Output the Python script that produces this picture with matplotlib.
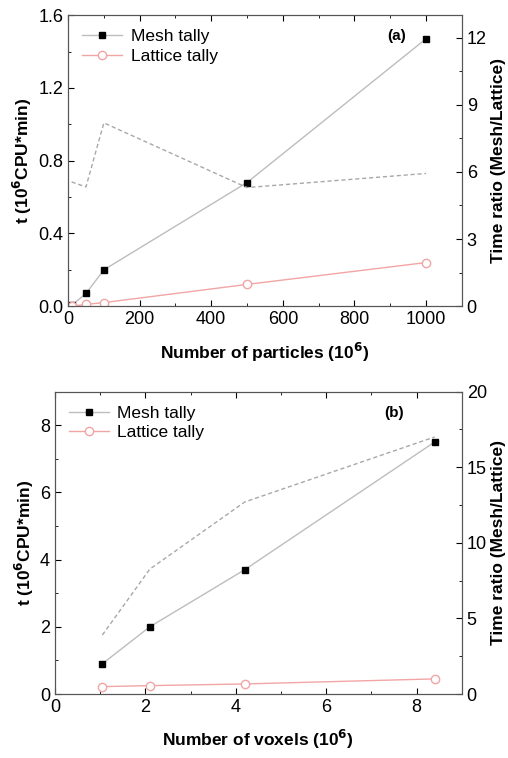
import numpy as np
import matplotlib
matplotlib.use("Agg")
import matplotlib.pyplot as plt
from matplotlib.ticker import MultipleLocator

plt.rcParams['font.family'] = ['Liberation Sans', 'DejaVu Sans']

# panel (a): number of particles (10^6)
particles = [10, 50, 100, 500, 1000]
mesh_a = [0.005, 0.07, 0.20, 0.68, 1.47]
lattice_a = [0.0, 0.01, 0.02, 0.12, 0.24]
ratio_a = [5.55, 5.33, 8.19, 5.30, 5.93]

# panel (b): number of voxels (10^6)
voxels = [1.05, 2.1, 4.2, 8.4]
mesh_b = [0.9, 2.0, 3.7, 7.5]
lattice_b = [0.22, 0.25, 0.30, 0.45]
ratio_b = [3.9, 8.26, 12.7, 17.0]

mesh_line = "#bdbdbd"
lattice_line = "#f2a5a5"
ratio_line = "#a8a8a8"

fig = plt.figure(figsize=(5.08, 7.58), dpi=100)


def style_axis(ax, xmaj, xmin, ymaj, ymin):
    ax.xaxis.set_major_locator(MultipleLocator(xmaj))
    ax.xaxis.set_minor_locator(MultipleLocator(xmin))
    ax.yaxis.set_major_locator(MultipleLocator(ymaj))
    ax.yaxis.set_minor_locator(MultipleLocator(ymin))
    ax.tick_params(which='both', direction='in', top=True, labelsize=13)
    ax.tick_params(which='major', length=4)
    ax.tick_params(which='minor', length=2)
    for s in ax.spines.values():
        s.set_color("#555555")


def panel(rect, x, mesh, lattice, ratio, xlim, ylim, rlim, ticks, xlabel, tag, ytfmt):
    ax = fig.add_axes(rect)
    ax.plot(x, mesh, color=mesh_line, lw=1, marker='s', ms=5,
            mfc='black', mec='black', label='Mesh tally')
    ax.plot(x, lattice, color=lattice_line, lw=1, marker='o', ms=6,
            mfc='white', mec=lattice_line, label='Lattice tally')
    ax.set_xlim(*xlim)
    ax.set_ylim(*ylim)
    style_axis(ax, *ticks[:4])
    ax.yaxis.set_major_formatter(ytfmt)
    ax.set_xlabel(xlabel, fontsize=12.5, fontweight='bold', labelpad=9)
    ax.set_ylabel("t (10$^\\mathbf{6}$CPU*min)", fontsize=12.5, fontweight='bold',
                  labelpad=3)
    ax.legend(loc='upper left', frameon=False, fontsize=12.5, handlelength=2.3,
              handletextpad=0.5, borderaxespad=0.4, labelspacing=0.25)
    ax.text(0.81, 0.93, tag, transform=ax.transAxes, fontsize=11,
            fontweight='bold', va='center')

    ax2 = ax.twinx()
    ax2.plot(x, ratio, color=ratio_line, lw=1, ls=(0, (3, 2)))
    ax2.set_ylim(*rlim)
    ax2.yaxis.set_major_locator(MultipleLocator(ticks[4]))
    ax2.yaxis.set_minor_locator(MultipleLocator(ticks[5]))
    ax2.tick_params(which='both', direction='in', labelsize=13)
    ax2.tick_params(which='major', length=4)
    ax2.tick_params(which='minor', length=2)
    ax2.set_ylabel("Time ratio (Mesh/Lattice)", fontsize=12.5, fontweight='bold',
                   labelpad=3)
    for s in ax2.spines.values():
        s.set_color("#555555")
    return ax, ax2


panel([0.134, 0.596, 0.775, 0.384], particles, mesh_a, lattice_a, ratio_a,
      (0, 1100), (0, 1.6), (0, 13), (200, 100, 0.4, 0.2, 3, 1.5),
      "Number of particles (10$^\\mathbf{6}$)", "(a)",
      plt.FormatStrFormatter('%.1f'))

panel([0.108, 0.0844, 0.801, 0.399], voxels, mesh_b, lattice_b, ratio_b,
      (0, 9), (0, 9), (0, 20), (2, 1, 2, 1, 5, 2.5),
      "Number of voxels (10$^\\mathbf{6}$)", "(b)",
      plt.FormatStrFormatter('%d'))

fig.savefig("out.png", dpi=100)
